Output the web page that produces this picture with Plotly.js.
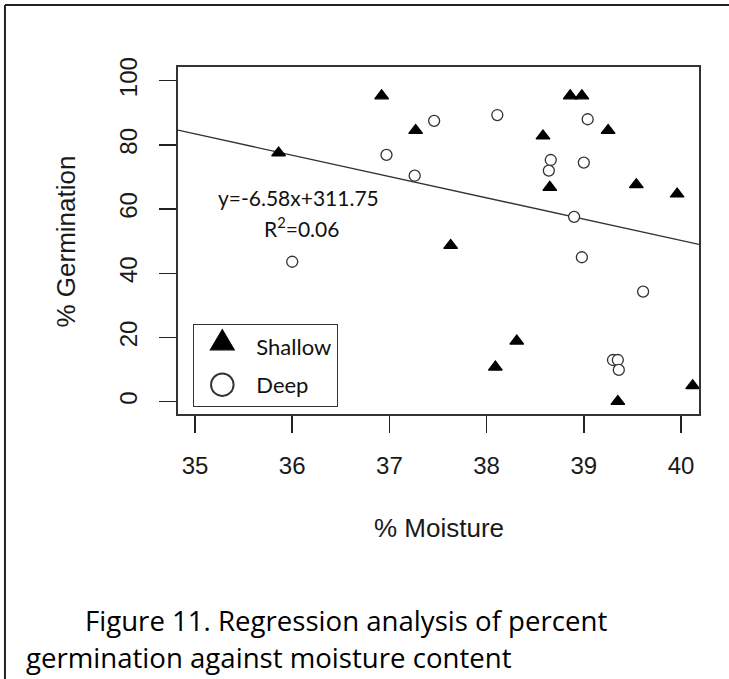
<!DOCTYPE html>
<html>
<head>
<meta charset="utf-8">
<script src="https://cdn.plot.ly/plotly-3.0.1.min.js"></script>
<style>
  html, body { margin: 0; padding: 0; background: #ffffff; }
  #chart { width: 729px; height: 679px; }
</style>
</head>
<body>
<div id="chart"></div>
<script>
// ---- data ----
var shallowX = [35.86, 36.92, 37.27, 37.63, 38.09, 38.31, 38.58, 38.65, 38.86, 38.98, 39.25, 39.35, 39.54, 39.96, 40.12];
var shallowY = [77.5, 95.3, 84.5, 48.7, 10.8, 18.9, 82.8, 66.8, 95.3, 95.3, 84.5, 0.1, 67.6, 64.7, 5.0];

var deepX = [36.00, 36.97, 37.26, 37.46, 38.11, 38.64, 38.66, 38.90, 38.98, 39.00, 39.04, 39.30, 39.35, 39.36, 39.61];
var deepY = [43.6, 76.9, 70.4, 87.5, 89.3, 72.0, 75.3, 57.6, 45.0, 74.5, 88.0, 13.0, 13.0, 9.9, 34.3];

// regression line as drawn (endpoints at the plot edges)
var fitX = [34.825, 40.185];
var fitY = [84.6, 49.0];

var xTicks = [35, 36, 37, 38, 39, 40];
var yTicks = [0, 20, 40, 60, 80, 100];

var seriesNames = ["Shallow", "Deep"];
var equationText = "y=-6.58x+311.75";
var r2Text = "R<sup>2</sup>=0.06";
var xTitle = "% Moisture";
var yTitle = "% Germination";
var captionLine1 = "Figure 11. Regression analysis of percent";
var captionLine2 = "germination against moisture content";

// ---- traces ----
var traces = [
  {
    x: fitX, y: fitY, mode: "lines", type: "scatter",
    line: { color: "#333333", width: 1.3 },
    showlegend: false, hoverinfo: "skip"
  },
  {
    x: shallowX, y: shallowY, mode: "markers", type: "scatter",
    name: seriesNames[0], legendgroup: "a",
    marker: { symbol: "triangle-up", size: 12, color: "#000000",
              line: { color: "#000000", width: 1.2 } }
  },
  {
    x: deepX, y: deepY, mode: "markers", type: "scatter",
    name: seriesNames[1], legendgroup: "b",
    marker: { symbol: "circle", size: 11, color: "#ffffff",
              line: { color: "#333333", width: 1.3 } }
  }
];

var axisFont = { family: "Liberation Sans, Arial, sans-serif", size: 24, color: "#1a1a1a" };
var calFont = "Lato, Carlito, sans-serif";

var layout = {
  width: 729, height: 679,
  margin: { l: 178, r: 30, t: 67, b: 265 },
  paper_bgcolor: "#ffffff", plot_bgcolor: "#ffffff",
  showlegend: true,
  legend: {
    x: 0.0288, y: 0.2594, xanchor: "left", yanchor: "top",
    bordercolor: "#333333", borderwidth: 1.3, bgcolor: "#ffffff",
    font: { family: calFont, size: 22, color: "#111111" },
    traceorder: "grouped", tracegroupgap: 7, itemwidth: 52
  },
  xaxis: {
    range: [34.825, 40.185], tickvals: xTicks, ticktext: xTicks.map(String),
    ticks: "outside", ticklen: 17, tickwidth: 1.5, tickcolor: "#222222",
    showline: true, mirror: true, linewidth: 2, linecolor: "#333333",
    showgrid: false, zeroline: false, tickfont: axisFont,
    ticklabelstandoff: 12
  },
  yaxis: {
    range: [-3.83, 104.27], tickvals: yTicks, ticktext: yTicks.map(String),
    tickangle: -90,
    ticks: "outside", ticklen: 17, tickwidth: 1.5, tickcolor: "#222222",
    showline: true, mirror: true, linewidth: 2, linecolor: "#333333",
    showgrid: false, zeroline: false, tickfont: axisFont,
    ticklabelstandoff: 12
  },
  annotations: [
    { text: equationText, xref: "paper", yref: "paper", x: 0.2322, y: 0.6225,
      xanchor: "center", yanchor: "middle", showarrow: false,
      font: { family: calFont, size: 21, color: "#111111" } },
    { text: r2Text, xref: "paper", yref: "paper", x: 0.2361, y: 0.5389,
      xanchor: "center", yanchor: "middle", showarrow: false,
      font: { family: calFont, size: 21, color: "#111111" } },
    { text: xTitle, xref: "paper", yref: "paper", x: 0.5, y: -0.3285,
      xanchor: "center", yanchor: "middle", showarrow: false,
      font: { family: "Liberation Sans, Arial, sans-serif", size: 26, color: "#1a1a1a" } },
    { text: yTitle, xref: "paper", yref: "paper", x: -0.215, y: 0.497,
      xanchor: "center", yanchor: "middle", showarrow: false, textangle: -90,
      font: { family: "Liberation Sans, Arial, sans-serif", size: 26, color: "#1a1a1a" } },
    { text: captionLine1, xref: "paper", yref: "paper", x: -0.1825, y: -0.5937,
      xanchor: "left", yanchor: "middle", showarrow: false,
      font: { family: "Open Sans, sans-serif", size: 27.6, color: "#000000" } },
    { text: captionLine2, xref: "paper", yref: "paper", x: -0.2957, y: -0.6994,
      xanchor: "left", yanchor: "middle", showarrow: false,
      font: { family: "Open Sans, sans-serif", size: 27.6, color: "#000000" } }
  ],
  shapes: [
    { type: "line", xref: "paper", yref: "paper", x0: -0.3321, x1: 1.06, y0: 1.1787, y1: 1.1787,
      line: { color: "#222222", width: 2 } },
    { type: "line", xref: "paper", yref: "paper", x0: -0.3321, x1: -0.3321, y0: 1.1787, y1: -0.77,
      line: { color: "#222222", width: 2 } }
  ]
};

Plotly.newPlot("chart", traces, layout, { displayModeBar: false, staticPlot: true }).then(function (gd) {
  // enlarge the legend symbols (R draws them bigger than the plotted points)
  var pts = gd.querySelectorAll(".legend .legendpoints path.scatterpts");
  pts.forEach(function (p) {
    var t = p.getAttribute("transform") || "";
    var d = p.getAttribute("d") || "";
    if (d.indexOf("A") >= 0) {
      p.setAttribute("transform", t + " translate(-3,0) scale(2.05)");
      p.style.strokeWidth = "0.95px";
    } else {
      p.setAttribute("transform", t + " translate(-3,-3) scale(1.72,2.25)");
      p.style.strokeWidth = "0.6px";
    }
  });
});
</script>
</body>
</html>
